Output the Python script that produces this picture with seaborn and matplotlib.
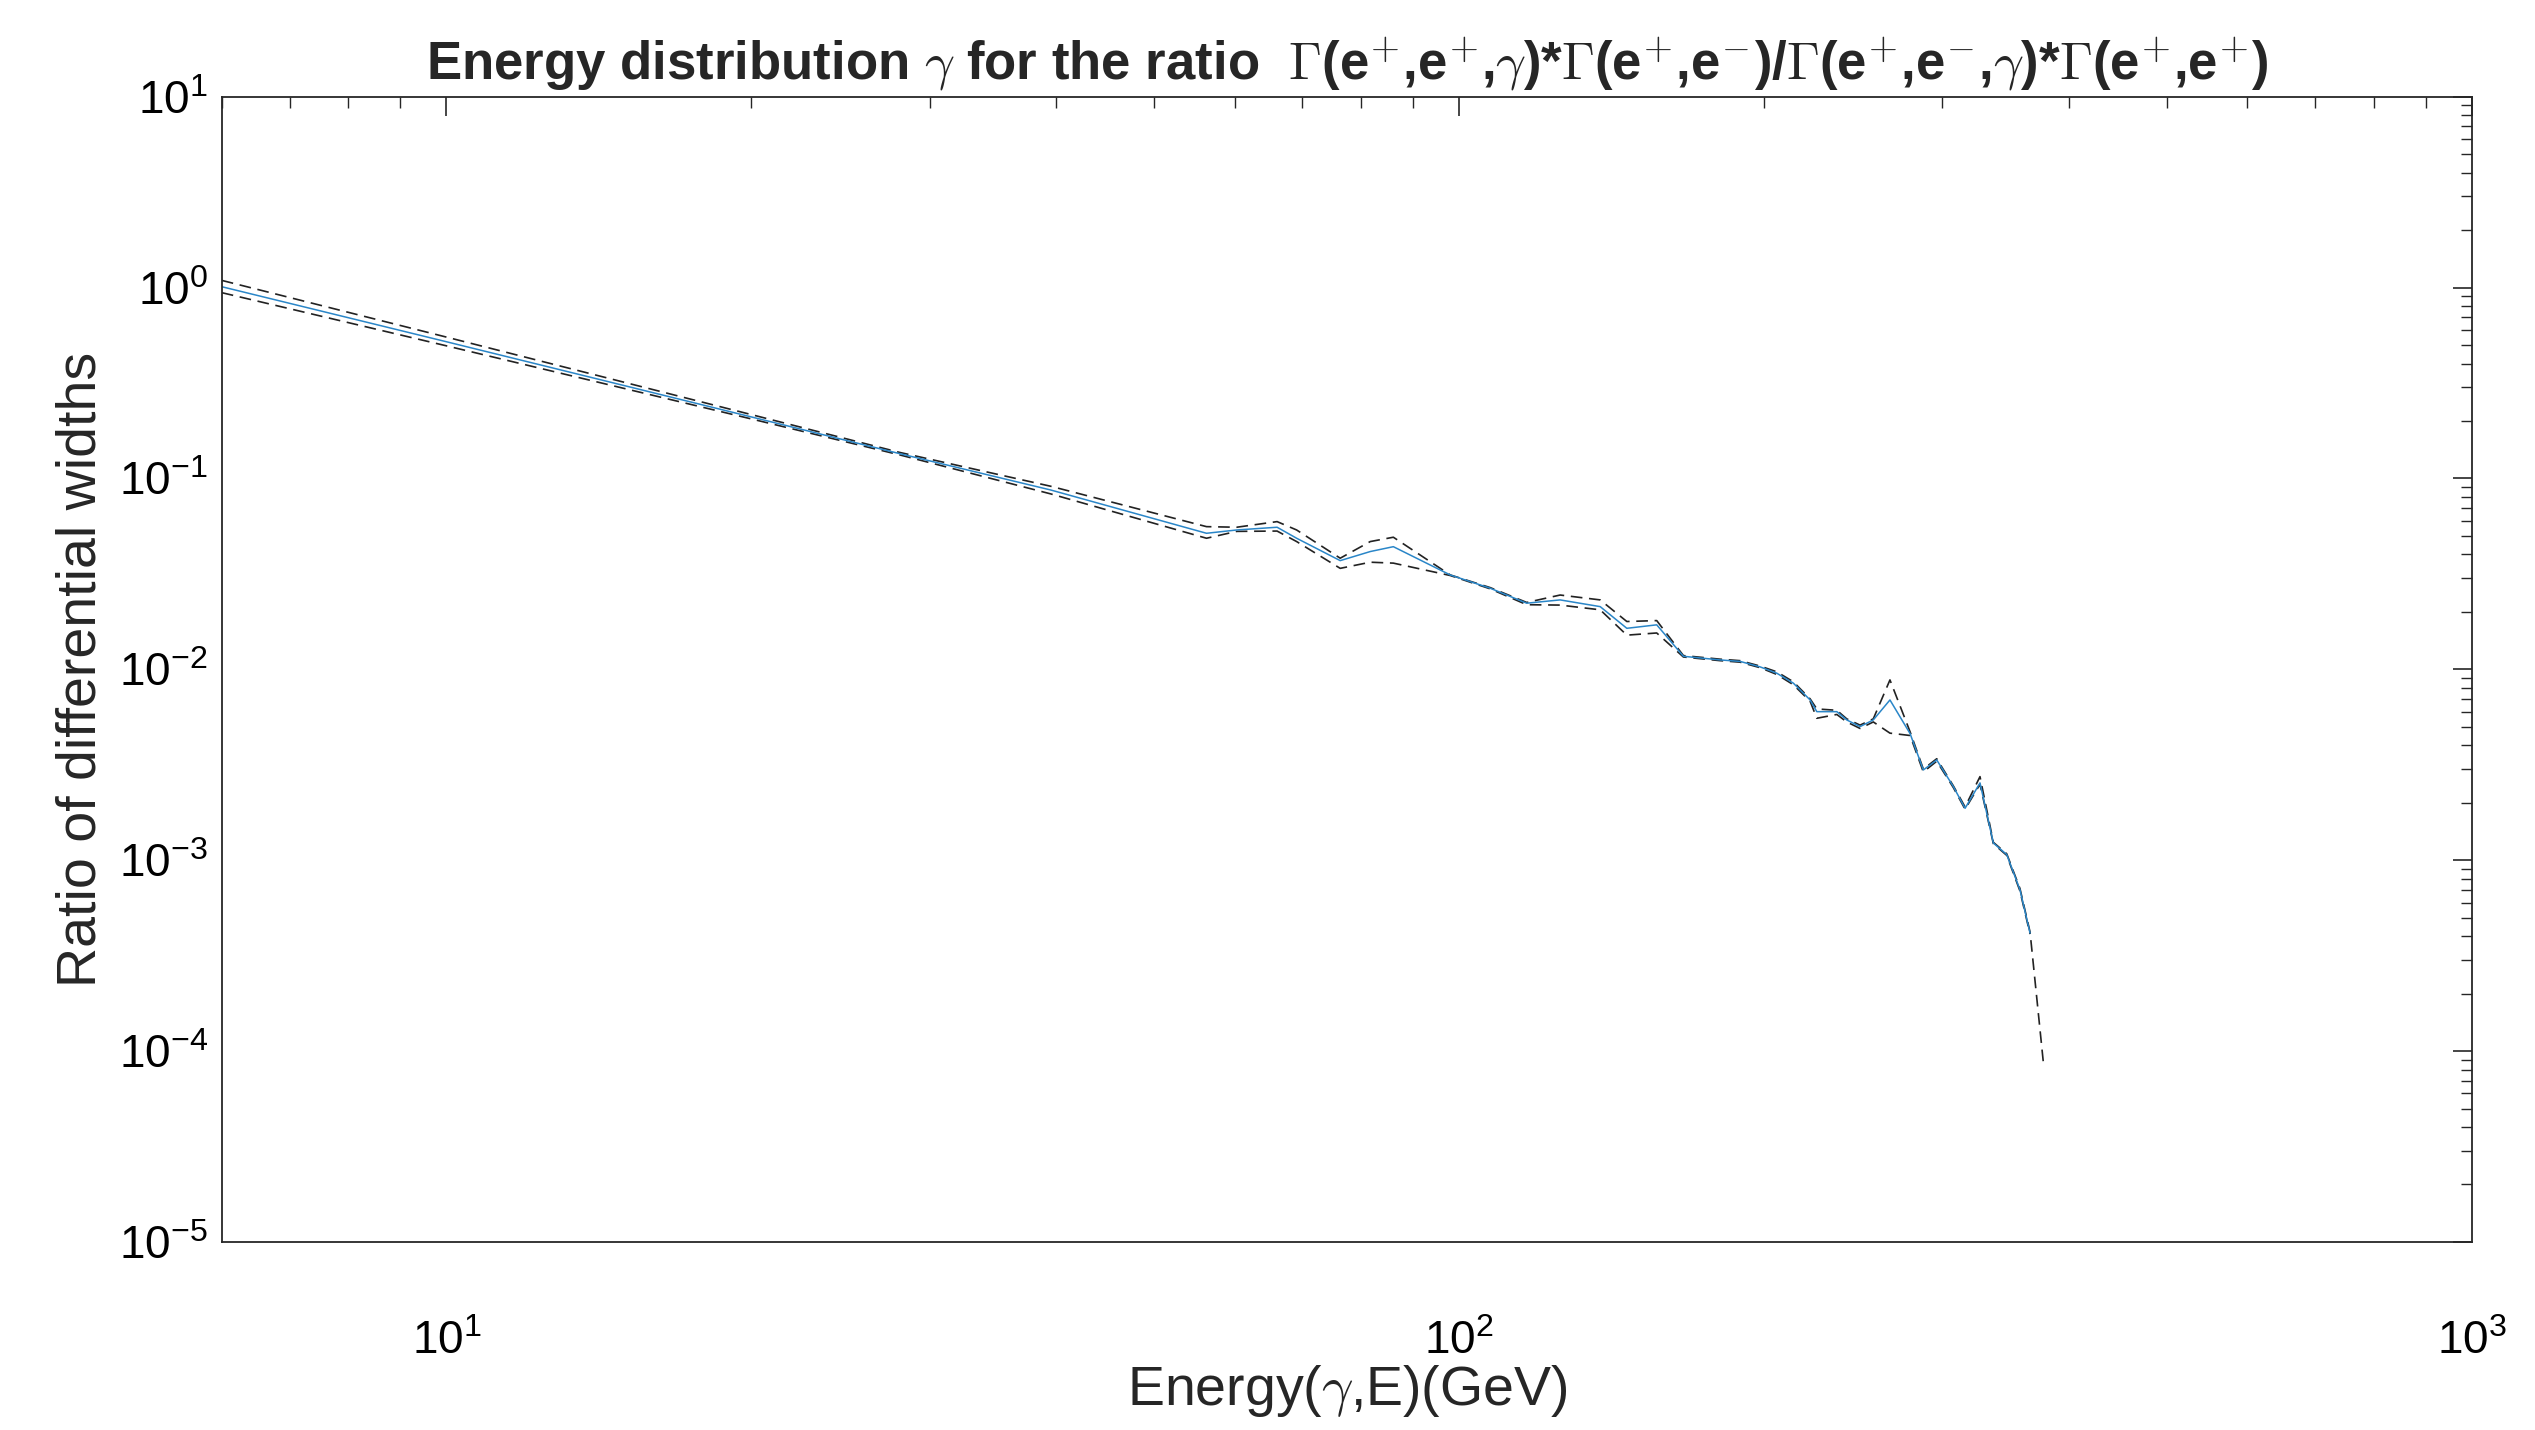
import numpy as np
import pandas as pd
import seaborn as sns
import matplotlib
from matplotlib import pyplot as plt
from matplotlib import ticker
matplotlib.use("Agg")

# photon energy (GeV)
energy = [6.0, 10, 20, 28, 39.5, 56.3, 60.3, 66.1, 69.1, 76.3, 81.7, 86.1, 98.0,
          107.3, 116.6, 125.8, 137.8, 146.4, 156.7, 166.5, 181.0, 189.4, 198.2,
          205.9, 213.8, 222.1, 225.5, 236.0, 241.4, 248.8, 256.4, 266.3, 278.8,
          287.3, 296.2, 307.6, 315.9, 326.8, 336.9, 347.3, 357.9, 366.2, 377.5]

# central ratio (solid line), stops one point before the bounds
ratio_central = [1.01, 0.52, 0.21, 0.135, 0.087, 0.0516, 0.0537, 0.0555, 0.0486,
                 0.0371, 0.0414, 0.0439, 0.0312, 0.0266, 0.0222, 0.0231, 0.0213,
                 0.0164, 0.0171, 0.0117, 0.0112, 0.0110, 0.0103, 0.00954, 0.00846,
                 0.00691, 0.0060, 0.0060, 0.00543, 0.00501, 0.00543, 0.00691,
                 0.0046, 0.00297, 0.00335, 0.00243, 0.00187, 0.00254, 0.00123,
                 0.00107, 0.00070, 0.000415]

# upper bound (dashed), runs to the last energy
ratio_upper = [1.09, 0.55, 0.216, 0.137, 0.091, 0.0559, 0.0555, 0.0594, 0.0537,
               0.0382, 0.0467, 0.0492, 0.0312, 0.0268, 0.0224, 0.0245, 0.0231,
               0.0178, 0.0180, 0.0118, 0.0113, 0.0111, 0.0104, 0.0097, 0.0086,
               0.0070, 0.0062, 0.0061, 0.0055, 0.0051, 0.0055, 0.0088, 0.0047,
               0.0030, 0.0034, 0.00245, 0.0019, 0.00274, 0.00124, 0.00108,
               0.00071, 0.00042, 0.0000864]

# lower bound (dashed), its tail lies under the upper one
ratio_lower = [0.94, 0.495, 0.205, 0.133, 0.083, 0.0486, 0.0528, 0.0530, 0.0467,
               0.0338, 0.0364, 0.0360, 0.0310, 0.0264, 0.0218, 0.0217, 0.0205,
               0.0151, 0.0155, 0.0116, 0.0111, 0.0109, 0.0102, 0.0094, 0.0083,
               0.0068, 0.00554, 0.0058, 0.0053, 0.0049, 0.0053, 0.00463, 0.0045,
               0.0029, 0.0033, 0.0024, 0.00185, 0.0025, 0.00122, 0.00106,
               0.00069, 0.00041]

sns.set_style('white')
plt.rcParams['font.family'] = ['Liberation Sans', 'DejaVu Sans']
plt.rcParams['mathtext.fontset'] = 'cm'

upper = pd.DataFrame({'energy': energy, 'ratio': ratio_upper})
lower = pd.DataFrame({'energy': energy[:len(ratio_lower)], 'ratio': ratio_lower})
central = pd.DataFrame({'energy': energy[:len(ratio_central)], 'ratio': ratio_central})

fig, ax = plt.subplots(figsize=(25.35, 14.3), dpi=100)
fig.subplots_adjust(left=0.0875, right=0.9751, top=0.9324, bottom=0.1315)

dash = (0, (7, 4))
sns.lineplot(data=upper, x='energy', y='ratio', ax=ax, color='#222222',
             lw=1.2, linestyle=dash, errorbar=None)
sns.lineplot(data=lower, x='energy', y='ratio', ax=ax, color='#222222',
             lw=1.2, linestyle=dash, errorbar=None)
sns.lineplot(data=central, x='energy', y='ratio', ax=ax, color='#2a86c8',
             lw=1.1, errorbar=None)

ax.set_xscale('log')
ax.set_yscale('log')
ax.set_xlim(6.0, 1000)
ax.set_ylim(1e-5, 10)

ax.xaxis.set_major_locator(ticker.LogLocator(base=10))
ax.yaxis.set_major_locator(ticker.LogLocator(base=10, numticks=12))
ax.xaxis.set_minor_locator(ticker.LogLocator(base=10, subs=np.arange(2, 10)))
ax.yaxis.set_minor_locator(ticker.LogLocator(base=10, subs=np.arange(2, 10), numticks=12))
ax.xaxis.set_minor_formatter(ticker.NullFormatter())
ax.yaxis.set_minor_formatter(ticker.NullFormatter())

ax.tick_params(which='both', direction='in', top=True, right=True,
               color='#262626', labelcolor='black', labelsize=33)
ax.tick_params(which='major', length=14, width=1.2)
ax.tick_params(which='minor', length=8, width=1.0)
ax.tick_params(axis='x', pad=56)
ax.tick_params(axis='y', pad=10)

for sp in ax.spines.values():
    sp.set_color('#262626')
    sp.set_linewidth(1.3)

ax.set_xlabel(r'Energy($\gamma$,E)(GeV)', fontsize=40)
ax.xaxis.set_label_coords(0.5, -0.106)
ax.set_ylabel('Ratio of differential widths', fontsize=40, labelpad=8)
ax.set_title(r'Energy distribution $\gamma$ for the ratio  $\Gamma$(e$^{+}$,e$^{+}$,$\gamma$)*$\Gamma$(e$^{+}$,e$^{-}$)/$\Gamma$(e$^{+}$,e$^{-}$,$\gamma$)*$\Gamma$(e$^{+}$,e$^{+}$)',
             fontsize=38, fontweight='bold', pad=12)

fig.savefig('out.png', dpi=100)
